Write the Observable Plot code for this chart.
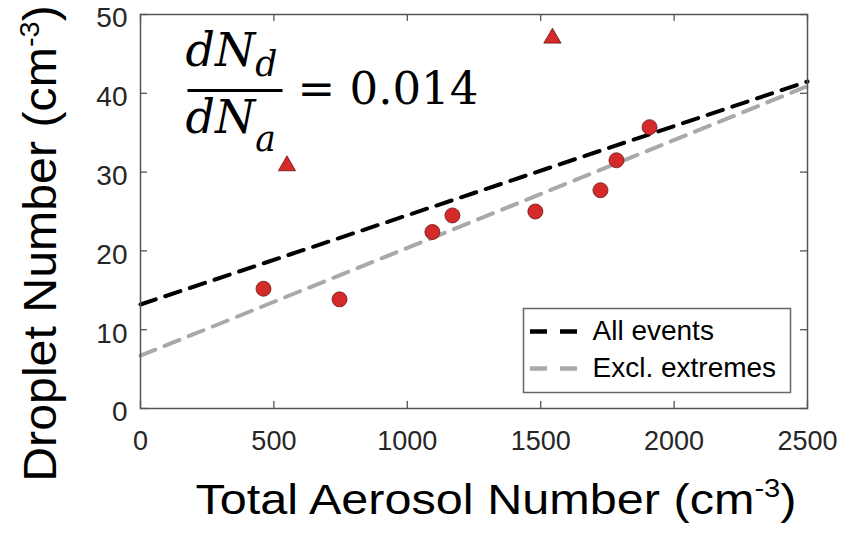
<!DOCTYPE html>
<html><head><meta charset="utf-8">
<script src="https://cdn.jsdelivr.net/npm/d3@7"></script>
<script src="https://cdn.jsdelivr.net/npm/@observablehq/plot@0.6"></script>
<style>
body{margin:0;background:#fff;}
#chart svg{display:block;font-family:"Liberation Sans",Arial,sans-serif;}
</style>
</head><body><div id="chart"></div>
<script>
// Data
const aerosol = [461, 746, 1094, 1169, 1480, 1724, 1784, 1908];
const droplet = [15.2, 13.85, 22.4, 24.5, 25.0, 27.7, 31.5, 35.7];
const extremeAerosol = [549, 1544];
const extremeDroplet = [30.8, 47.0];
const fitX = [0, 2500];
const fitAllY = [13.2, 41.5];
const fitExclY = [6.7, 40.9];
const xTicks = [0, 500, 1000, 1500, 2000, 2500];
const yTicks = [0, 10, 20, 30, 40, 50];
const legendLabels = ["All events", "Excl. extremes"];
const slopeText = "= 0.014";
const xTitle = "Total Aerosol Number (cm^{-3})";
const yTitle = "Droplet Number (cm^{-3})";

const points = aerosol.map((a, i) => ({a, d: droplet[i]}));
const extremes = extremeAerosol.map((a, i) => ({a, d: extremeDroplet[i]}));
const fitAll = fitX.map((x, i) => ({x, y: fitAllY[i]}));
const fitExcl = fitX.map((x, i) => ({x, y: fitExclY[i]}));

const W = 843, H = 533, mL = 140, mR = 36, mT = 14, mB = 125;
const fw = W - mL - mR, fh = H - mT - mB;
const tick = 7;
const red = "#d42a2a", redStroke = "#6b1515";
const tickColor = "#262626";
const mathFont = "'DejaVu Serif', serif";

const chart = Plot.plot({
  width: W, height: H,
  marginLeft: mL, marginRight: mR, marginTop: mT, marginBottom: mB,
  x: {domain: [0, 2500]},
  y: {domain: [0, 50]},
  style: {fontFamily: "'Liberation Sans', Arial, sans-serif", background: "white"},
  marks: [
    // tick labels
    Plot.axisX(xTicks, {tickSize: 0, tickPadding: 22, fontSize: 27, label: null, color: tickColor, tickFormat: d => String(d)}),
    Plot.axisY(yTicks, {tickSize: 0, tickPadding: 13, fontSize: 28, label: null, color: tickColor, dy: 4, tickFormat: d => String(d)}),
    // fits
    Plot.line(fitAll, {x: "x", y: "y", stroke: "black", strokeWidth: 4, strokeDasharray: "16,10"}),
    Plot.line(fitExcl, {x: "x", y: "y", stroke: "#a9a9a9", strokeWidth: 4, strokeDasharray: "16,10"}),
    // points
    Plot.dot(points, {x: "a", y: "d", r: 7.5, fill: red, stroke: redStroke, strokeWidth: 0.8}),
    Plot.dot(extremes, {x: "a", y: "d", symbol: "triangle", r: 6.4, fill: red, stroke: redStroke, strokeWidth: 0.8}),
    // inward ticks (MATLAB box style)
    Plot.tickX(xTicks, {x: d => d, insetTop: fh - tick, stroke: "#555", strokeWidth: 1.3}),
    Plot.tickX(xTicks, {x: d => d, insetBottom: fh - tick, stroke: "#555", strokeWidth: 1.3}),
    Plot.tickY(yTicks, {y: d => d, insetRight: fw - tick, stroke: "#555", strokeWidth: 1.3}),
    Plot.tickY(yTicks, {y: d => d, insetLeft: fw - tick, stroke: "#555", strokeWidth: 1.3}),
    Plot.frame({stroke: "#555", strokeWidth: 1.5}),
    // legend
    Plot.frame({fill: "white", stroke: "#666", strokeWidth: 1.5, insetLeft: 383, insetRight: 17, insetTop: 294, insetBottom: 16}),
    Plot.ruleY([50], {dy: 317, insetLeft: 390, insetRight: 230, stroke: "black", strokeWidth: 4.5, strokeDasharray: "17,13"}),
    Plot.ruleY([50], {dy: 354, insetLeft: 390, insetRight: 230, stroke: "#a9a9a9", strokeWidth: 4.5, strokeDasharray: "17,13"}),
    Plot.text([legendLabels[0]], {frameAnchor: "top-left", text: d => d, dx: 452, dy: 317, textAnchor: "start", lineAnchor: "middle", fontSize: 28, fill: "black"}),
    Plot.text([legendLabels[1]], {frameAnchor: "top-left", text: d => d, dx: 452, dy: 354, textAnchor: "start", lineAnchor: "middle", fontSize: 28, fill: "black"}),
    // equation
    Plot.text(["dN_{d}"], {frameAnchor: "top-left", text: d => d, dx: 45, dy: 51, textAnchor: "start", lineAnchor: "bottom", fontSize: 46, fontStyle: "italic", fontFamily: mathFont, fill: "black"}),
    Plot.frame({fill: "black", stroke: null, insetLeft: 47, insetRight: fw - 142, insetTop: 74.5, insetBottom: fh - 77.5}),
    Plot.text(["dN_{a}"], {frameAnchor: "top-left", text: d => d, dx: 45, dy: 118, textAnchor: "start", lineAnchor: "bottom", fontSize: 46, fontStyle: "italic", fontFamily: mathFont, fill: "black"}),
    Plot.text([slopeText], {frameAnchor: "top-left", text: d => d, dx: 157, dy: 89, textAnchor: "start", lineAnchor: "bottom", fontSize: 45, fontFamily: mathFont, fill: "black"}),
    // axis titles
    Plot.text([xTitle], {frameAnchor: "bottom", text: d => d, dx: 22, dy: 105, textAnchor: "middle", lineAnchor: "bottom", fontSize: 43, fill: "black"}),
    Plot.text([yTitle], {frameAnchor: "left", text: d => d, dx: -85, dy: 32, rotate: -90, textAnchor: "middle", lineAnchor: "bottom", fontSize: 46, fill: "black"})
  ]
});

// horizontal stretch of the two axis titles (the reference glyphs are wider)
const stretch = {[xTitle]: 1.13, [yTitle]: 1.05};
d3.select(chart).selectAll("text").each(function() {
  const s = stretch[this.textContent];
  if (s) {
    const tr = this.getAttribute("transform") || "";
    this.setAttribute("transform", `${tr} scale(${s},1)`);
  }
});

// Turn ^{..} and _{..} markup into real superscript / subscript tspans
d3.select(chart).selectAll("text").each(function() {
  const t = this.textContent;
  if (!/[\^_]\{/.test(t)) return;
  const parts = [];
  const re = /([\^_])\{([^}]*)\}/g;
  let last = 0, m;
  while ((m = re.exec(t))) {
    if (m.index > last) parts.push({s: t.slice(last, m.index), k: null});
    parts.push({s: m[2], k: m[1]});
    last = re.lastIndex;
  }
  if (last < t.length) parts.push({s: t.slice(last), k: null});
  const el = d3.select(this);
  el.text(null);
  let shift = 0;
  const subShift = t.endsWith("a}") ? 18 : 10;
  parts.forEach(p => {
    const ts = el.append("tspan").text(p.s);
    let target = 0;
    if (p.k === "^") { ts.attr("font-size", "0.6em"); target = -17; }
    if (p.k === "_") { ts.attr("font-size", "0.75em"); target = subShift; }
    ts.attr("dy", target - shift);
    shift = target;
  });
});

document.getElementById("chart").append(chart);
</script>
</body></html>
